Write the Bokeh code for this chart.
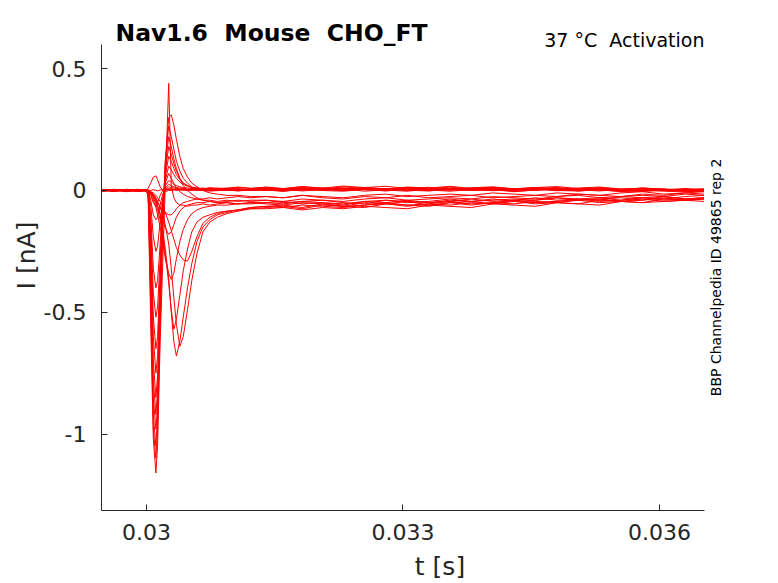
import math
from bokeh.plotting import figure
from bokeh.models import Label, FixedTicker, Range1d
from bokeh.embed import file_html
from bokeh.resources import INLINE

# ---- data ----
# sample times [s]
t_s = [0.02947, 0.02962, 0.02977, 0.02990,
       0.03000, 0.03002, 0.03005, 0.03008, 0.03011, 0.03013,
       0.03016, 0.03019, 0.03022, 0.03026, 0.03029, 0.03032,
       0.03035, 0.03039, 0.03043, 0.03048, 0.03053, 0.03059,
       0.03066, 0.03074, 0.03083, 0.03094, 0.03107, 0.03122,
       0.03140, 0.03160, 0.03182, 0.03206, 0.03230, 0.03255,
       0.03280, 0.03305, 0.03330, 0.03355, 0.03380, 0.03405,
       0.03430, 0.03455, 0.03480, 0.03505, 0.03530, 0.03555,
       0.03580, 0.03605, 0.03630, 0.03652]

# current traces [nA]
i_a01 = [0.004, -0.003, 0.002, -0.004, 0.000,
         -0.030, -0.550, -1.020, -1.160, -1.050, -0.620, -0.300, 0.020, 0.440, 0.020, -0.030, -0.050,
         -0.060, -0.060, -0.065, -0.060, -0.060, -0.055, -0.060, -0.055, -0.050, -0.055, -0.050,
         -0.050, -0.045, -0.055, -0.050, -0.060, -0.045, -0.050, -0.040, -0.050, -0.045, -0.035,
         -0.045, -0.040, -0.030, -0.040, -0.035, -0.030, -0.040, -0.030, -0.025, -0.035, -0.030]
i_a02 = [-0.002, 0.005, -0.003, 0.003, -0.002,
         -0.020, -0.480, -0.980, -1.100, -0.980, -0.560, -0.160, 0.120, 0.300, 0.310, 0.270, 0.210,
         0.140, 0.090, 0.055, 0.030, 0.015, 0.000, -0.010, -0.015, -0.020, -0.020, -0.025,
         -0.025, -0.030, -0.020, -0.030, -0.035, -0.025, -0.030, -0.020, -0.030, -0.025, -0.020,
         -0.030, -0.025, -0.020, -0.025, -0.015, -0.020, -0.025, -0.015, -0.020, -0.010, -0.015]
i_a03 = [0.003, -0.004, 0.004, -0.001, 0.002,
         -0.010, -0.400, -0.920, -1.050, -0.920, -0.500, -0.120, 0.120, 0.265, 0.220, 0.170, 0.120,
         0.080, 0.050, 0.030, 0.015, 0.005, 0.000, -0.003, 0.000, 0.002, -0.002, 0.003,
         0.000, 0.008, 0.002, 0.010, 0.004, 0.012, 0.006, 0.000, 0.008, 0.004, 0.010,
         0.002, 0.006, 0.000, 0.008, 0.003, -0.002, 0.005, 0.000, 0.006, -0.003, 0.002]
i_a04 = [-0.003, 0.002, -0.005, 0.004, -0.001,
         -0.015, -0.350, -0.850, -0.980, -0.880, -0.480, -0.120, 0.100, 0.220, 0.180, 0.130, 0.090,
         0.050, 0.020, 0.000, -0.015, -0.030, -0.040, -0.045, -0.050, -0.050, -0.055, -0.050,
         -0.055, -0.060, -0.050, -0.055, -0.065, -0.050, -0.055, -0.045, -0.060, -0.050, -0.045,
         -0.055, -0.040, -0.050, -0.045, -0.035, -0.045, -0.040, -0.030, -0.040, -0.035, -0.030]
i_a05 = [0.002, 0.000, 0.004, -0.003, 0.001,
         -0.010, -0.300, -0.780, -0.920, -0.820, -0.450, -0.100, 0.080, 0.180, 0.150, 0.110, 0.080,
         0.050, 0.030, 0.020, 0.012, 0.008, 0.005, 0.003, 0.004, 0.006, 0.002, 0.005,
         0.010, 0.004, 0.012, 0.006, 0.015, 0.008, 0.004, 0.012, 0.007, 0.014, 0.005,
         0.010, 0.003, 0.009, 0.012, 0.004, 0.008, 0.002, 0.010, 0.005, 0.000, 0.006]
i_a06 = [-0.001, 0.004, -0.002, 0.001, -0.003,
         -0.010, -0.260, -0.700, -0.850, -0.760, -0.420, -0.090, 0.060, 0.140, 0.120, 0.090, 0.065,
         0.045, 0.030, 0.020, 0.012, 0.010, 0.006, 0.008, 0.010, 0.006, 0.012, 0.008,
         0.014, 0.008, 0.016, 0.010, 0.018, 0.012, 0.006, 0.014, 0.010, 0.017, 0.008,
         0.013, 0.006, 0.012, 0.016, 0.008, 0.011, 0.004, 0.010, 0.006, 0.002, 0.007]
i_a07 = [0.003, -0.002, 0.001, 0.005, 0.000,
         -0.005, -0.220, -0.600, -0.750, -0.680, -0.380, -0.080, 0.040, 0.100, 0.085, 0.065, 0.050,
         0.035, 0.025, 0.018, 0.012, 0.008, 0.010, 0.006, 0.004, 0.008, 0.004, 0.000,
         0.004, -0.002, 0.006, 0.000, 0.008, -0.003, 0.003, 0.007, -0.001, 0.005, 0.000,
         0.006, -0.004, 0.002, 0.005, -0.002, 0.003, -0.005, 0.001, -0.003, -0.006, 0.000]
i_a08 = [-0.004, 0.001, 0.003, -0.002, 0.001,
         -0.005, -0.180, -0.520, -0.650, -0.600, -0.340, -0.070, 0.030, 0.070, 0.050, 0.030, 0.010,
         -0.005, -0.015, -0.025, -0.030, -0.035, -0.040, -0.040, -0.045, -0.040, -0.045, -0.040,
         -0.040, -0.050, -0.045, -0.040, -0.050, -0.055, -0.040, -0.045, -0.050, -0.040, -0.045,
         -0.035, -0.045, -0.040, -0.030, -0.040, -0.035, -0.030, -0.040, -0.025, -0.035, -0.030]
i_a09 = [0.001, 0.003, -0.004, 0.002, -0.002,
         0.000, -0.140, -0.420, -0.520, -0.480, -0.280, -0.060, 0.020, 0.040, 0.035, 0.025, 0.020,
         0.015, 0.012, 0.010, 0.008, 0.010, 0.006, 0.012, 0.008, 0.010, 0.014, 0.009,
         0.013, 0.007, 0.015, 0.009, 0.004, 0.012, 0.017, 0.008, 0.013, 0.006, 0.011,
         0.015, 0.007, 0.012, 0.004, 0.010, 0.014, 0.006, 0.009, 0.003, 0.008, 0.004]
i_a10 = [-0.002, 0.004, 0.000, -0.003, 0.002,
         0.000, -0.100, -0.320, -0.400, -0.370, -0.220, -0.050, 0.010, 0.025, 0.020, 0.015, 0.012,
         0.010, 0.008, 0.006, 0.004, 0.007, 0.003, 0.006, 0.002, 0.005, 0.008, 0.003,
         0.006, 0.000, 0.008, 0.003, 0.010, 0.004, -0.001, 0.007, 0.002, 0.009, 0.003,
         0.007, 0.000, 0.005, 0.009, 0.002, 0.006, -0.002, 0.004, 0.000, -0.003, 0.002]
i_a11 = [0.002, -0.003, 0.003, 0.000, -0.001,
         0.000, -0.060, -0.190, -0.250, -0.230, -0.130, -0.030, 0.005, 0.015, 0.012, 0.010, 0.008,
         0.006, 0.005, 0.004, 0.006, 0.002, 0.005, 0.001, 0.004, 0.000, 0.003, 0.006,
         0.002, -0.004, 0.005, 0.000, -0.003, 0.004, 0.008, 0.001, -0.002, 0.005, 0.000,
         0.003, -0.005, 0.002, 0.006, -0.001, 0.003, -0.004, 0.000, 0.004, -0.002, -0.005]
i_a12 = [-0.003, 0.002, 0.001, -0.002, 0.003,
         0.000, -0.040, -0.100, -0.120, -0.110, -0.060, -0.015, 0.003, 0.008, 0.006, 0.004, 0.006,
         0.003, 0.005, 0.002, 0.006, 0.003, 0.001, 0.004, 0.000, 0.003, -0.001, 0.002,
         0.005, -0.001, 0.003, 0.007, 0.000, 0.004, -0.002, 0.006, 0.002, -0.003, 0.004,
         0.008, 0.001, 0.005, -0.001, 0.003, 0.006, 0.000, -0.004, 0.002, 0.004, -0.002]
i_a13 = [0.001, -0.002, 0.004, 0.002, -0.001,
         0.000, -0.020, -0.050, -0.065, -0.050, -0.020, 0.000, 0.005, 0.004, 0.006, 0.003, 0.002,
         0.005, 0.001, 0.004, 0.000, 0.003, 0.005, 0.001, -0.001, 0.003, 0.000, 0.004,
         0.001, 0.006, -0.002, 0.004, 0.000, 0.007, 0.002, -0.003, 0.005, 0.001, 0.006,
         -0.001, 0.003, 0.007, 0.000, -0.002, 0.004, 0.001, -0.003, 0.002, -0.001, 0.003]
i_a14 = [0.000, 0.003, -0.003, 0.001, 0.002,
         0.010, 0.030, 0.055, 0.060, 0.045, 0.015, 0.000, -0.005, 0.000, 0.002, 0.004, 0.001,
         0.003, 0.006, 0.002, 0.004, 0.000, 0.003, 0.005, 0.001, 0.004, 0.002, 0.005,
         0.008, 0.003, 0.010, 0.005, 0.001, 0.009, 0.004, 0.011, 0.006, 0.002, 0.008,
         0.012, 0.005, 0.009, 0.003, 0.007, 0.010, 0.004, 0.006, 0.000, 0.005, 0.002]
i_f01 = [0.002, -0.002, 0.005, -0.001, 0.001,
         0.002, 0.000, 0.003, 0.001, -0.002, 0.002, 0.004, 0.001, 0.003, 0.000, 0.002, 0.005,
         0.001, 0.003, -0.001, 0.002, 0.004, 0.000, 0.003, 0.006, 0.002, 0.004, 0.001,
         0.004, 0.008, 0.002, 0.006, 0.010, 0.003, 0.007, 0.001, 0.005, 0.009, 0.004,
         0.000, 0.006, 0.010, 0.003, 0.007, 0.002, 0.005, 0.008, 0.001, 0.004, 0.000]
i_c01 = [0.003, -0.002, 0.004, -0.003, 0.001,
         -0.002, -0.008, -0.020, -0.040, -0.060, -0.100, -0.160, -0.240, -0.360, -0.500, -0.620, -0.680,
         -0.620, -0.520, -0.400, -0.300, -0.210, -0.150, -0.120, -0.100, -0.090, -0.080, -0.070,
         -0.065, -0.070, -0.060, -0.065, -0.070, -0.060, -0.055, -0.065, -0.055, -0.060, -0.050,
         -0.055, -0.045, -0.055, -0.050, -0.040, -0.050, -0.045, -0.035, -0.045, -0.040, -0.035]
i_c02 = [-0.002, 0.003, -0.001, 0.004, -0.002,
         -0.002, -0.006, -0.015, -0.030, -0.045, -0.070, -0.100, -0.140, -0.220, -0.320, -0.440, -0.550,
         -0.640, -0.600, -0.490, -0.370, -0.260, -0.170, -0.130, -0.110, -0.095, -0.085, -0.075,
         -0.070, -0.065, -0.075, -0.060, -0.065, -0.070, -0.055, -0.060, -0.065, -0.050, -0.060,
         -0.050, -0.055, -0.045, -0.050, -0.055, -0.040, -0.045, -0.050, -0.035, -0.040, -0.035]
i_c03 = [0.001, -0.003, 0.002, 0.003, -0.002,
         -0.003, -0.010, -0.030, -0.055, -0.080, -0.120, -0.180, -0.260, -0.380, -0.490, -0.570, -0.530,
         -0.430, -0.330, -0.240, -0.170, -0.130, -0.110, -0.100, -0.090, -0.085, -0.080, -0.070,
         -0.065, -0.060, -0.070, -0.055, -0.065, -0.060, -0.050, -0.060, -0.055, -0.045, -0.055,
         -0.050, -0.040, -0.050, -0.045, -0.040, -0.035, -0.045, -0.040, -0.030, -0.040, -0.035]
i_c04 = [-0.001, 0.002, -0.004, 0.001, 0.003,
         -0.003, -0.015, -0.040, -0.070, -0.100, -0.150, -0.210, -0.280, -0.340, -0.365, -0.340, -0.280,
         -0.210, -0.160, -0.120, -0.095, -0.080, -0.070, -0.065, -0.060, -0.060, -0.055, -0.055,
         -0.050, -0.055, -0.045, -0.050, -0.055, -0.045, -0.040, -0.050, -0.045, -0.035, -0.045,
         -0.040, -0.035, -0.040, -0.030, -0.035, -0.040, -0.025, -0.030, -0.035, -0.025, -0.020]
i_c05 = [0.002, -0.001, 0.003, -0.004, 0.000,
         -0.001, -0.005, -0.010, -0.020, -0.030, -0.045, -0.065, -0.090, -0.130, -0.165, -0.200, -0.235,
         -0.265, -0.285, -0.290, -0.250, -0.190, -0.135, -0.110, -0.095, -0.085, -0.080, -0.075,
         -0.075, -0.070, -0.080, -0.070, -0.075, -0.065, -0.070, -0.075, -0.060, -0.065, -0.070,
         -0.055, -0.060, -0.065, -0.050, -0.055, -0.060, -0.045, -0.050, -0.045, -0.040, -0.045]
i_c06 = [-0.002, 0.001, 0.004, -0.002, 0.001,
         -0.002, -0.010, -0.025, -0.045, -0.065, -0.095, -0.125, -0.155, -0.180, -0.170, -0.140, -0.110,
         -0.085, -0.070, -0.060, -0.055, -0.050, -0.050, -0.045, -0.050, -0.045, -0.040, -0.045,
         -0.040, -0.045, -0.035, -0.040, -0.045, -0.035, -0.030, -0.040, -0.035, -0.030, -0.035,
         -0.025, -0.030, -0.035, -0.025, -0.020, -0.030, -0.025, -0.020, -0.025, -0.015, -0.020]
i_c07 = [0.003, 0.000, -0.003, 0.002, -0.001,
         0.000, -0.008, -0.020, -0.035, -0.050, -0.065, -0.080, -0.090, -0.100, -0.100, -0.090, -0.075,
         -0.060, -0.050, -0.045, -0.040, -0.035, -0.035, -0.030, -0.035, -0.030, -0.025, -0.030,
         -0.025, -0.030, -0.020, -0.025, -0.030, -0.020, -0.015, -0.025, -0.020, -0.015, -0.020,
         -0.010, -0.015, -0.020, -0.010, -0.015, -0.020, -0.010, -0.005, -0.015, -0.010, -0.005]

traces = [i_a01, i_a02, i_a03, i_a04, i_a05, i_a06, i_a07, i_a08, i_a09, i_a10,
          i_a11, i_a12, i_a13, i_a14, i_f01,
          i_c01, i_c02, i_c03, i_c04, i_c05, i_c06, i_c07]

x_ticks = [0.03, 0.033, 0.036]
x_tick_labels = ["0.03", "0.033", "0.036"]
y_ticks = [-1, -0.5, 0, 0.5]
y_tick_labels = ["-1", "-0.5", "0", "0.5"]

x_axis_extent = (0.029474, 0.036526)
y_axis_extent = (-1.314, 0.600)

# double spaces kept visible in SVG with a no-break space
title_text = "Nav1.6 \u00a0Mouse \u00a0CHO_FT"
cond_text = "37 \u00b0C \u00a0Activation"
side_text = "BBP Channelpedia ID 49865 rep 2"

# ---- figure ----
FONT = "DejaVu Sans"
AX = "#262626"

# the frame extends to the top/right edges so the header texts are not clipped;
# the axes themselves are bounded to the original axes box
p = figure(width=778, height=583, output_backend="svg", toolbar_location=None,
           x_range=Range1d(x_axis_extent[0], 0.037392),
           y_range=Range1d(y_axis_extent[0], 0.780),
           min_border_left=101, min_border_right=0, min_border_top=0,
           min_border_bottom=71, title=None,
           x_axis_label="t [s]", y_axis_label="I [nA]")
p.outline_line_color = None
p.xgrid.visible = False
p.ygrid.visible = False
p.background_fill_color = "white"
p.border_fill_color = "white"

p.multi_line(xs=[t_s] * len(traces), ys=traces, line_color="#ff0000", line_width=1)

p.xaxis.ticker = FixedTicker(ticks=x_ticks)
p.xaxis.major_label_overrides = dict(zip(x_ticks, x_tick_labels))
p.xaxis.bounds = x_axis_extent
p.yaxis.ticker = FixedTicker(ticks=y_ticks)
p.yaxis.major_label_overrides = dict(zip(y_ticks, y_tick_labels))
p.yaxis.bounds = y_axis_extent

for ax in (p.xaxis[0], p.yaxis[0]):
    ax.axis_line_color = AX
    ax.axis_line_width = 1
    ax.major_tick_line_color = AX
    ax.major_tick_in = 6
    ax.major_tick_out = 0
    ax.minor_tick_line_color = None
    ax.major_label_text_font = FONT
    ax.major_label_text_font_size = "22px"
    ax.major_label_text_color = AX
    ax.axis_label_text_font = FONT
    ax.axis_label_text_font_size = "25px"
    ax.axis_label_text_font_style = "normal"
    ax.axis_label_text_color = AX

p.xaxis[0].major_label_standoff = 13
p.xaxis[0].axis_label_standoff = 9
p.yaxis[0].major_label_standoff = 15
p.yaxis[0].axis_label_standoff = 0

p.add_layout(Label(x=0.0296374, y=0.645, text=title_text, text_font=FONT,
                   text_font_size="23.5px", text_font_style="bold", text_color="#000000",
                   text_align="left", text_baseline="alphabetic"))
p.add_layout(Label(x=x_axis_extent[1], y=0.619, text=cond_text, text_font=FONT,
                   text_font_size="19px", text_color="#000000",
                   text_align="right", text_baseline="alphabetic"))
p.add_layout(Label(x=0.0366667, y=-0.357, text=side_text, text_font=FONT,
                   text_font_size="14px", text_color="#000000", angle=math.pi / 2,
                   text_align="center", text_baseline="middle"))

open("out.html", "w").write(file_html(p, INLINE))
